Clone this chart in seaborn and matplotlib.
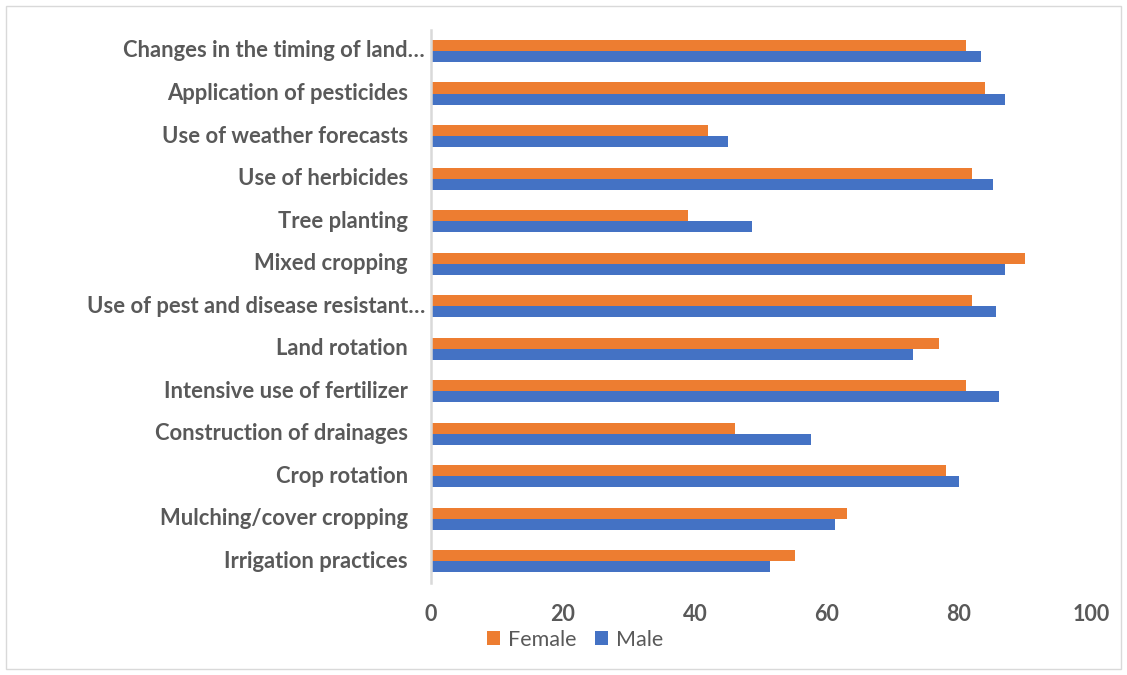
import matplotlib
matplotlib.use("Agg")
import matplotlib.pyplot as plt
import matplotlib.transforms as mtransforms
from matplotlib.patches import Patch, Rectangle
import seaborn as sns
import pandas as pd

categories = [
    "Changes in the timing of land…",
    "Application of pesticides",
    "Use of weather forecasts",
    "Use of herbicides",
    "Tree planting",
    "Mixed cropping",
    "Use of pest and disease resistant…",
    "Land rotation",
    "Intensive use of fertilizer",
    "Construction of drainages",
    "Crop rotation",
    "Mulching/cover cropping",
    "Irrigation practices",
]
female = [81.0, 84.0, 42.0, 82.0, 39.0, 90.0, 82.0, 77.0, 81.0, 46.0, 78.0, 63.0, 55.1]
male = [83.4, 87.0, 45.0, 85.1, 48.7, 87.0, 85.6, 73.0, 86.0, 57.5, 80.0, 61.2, 51.3]
series = ["Female", "Male"]
colors = ["#ED7D31", "#4472C4"]
xticks = [0, 20, 40, 60, 80, 100]

df = pd.DataFrame({
    "practice": categories * 2,
    "sex": ["Female"] * len(categories) + ["Male"] * len(categories),
    "value": female + male,
})

sns.set_theme(style="white")
plt.rcParams["font.family"] = ["Lato", "DejaVu Sans"]

fig = plt.figure(figsize=(11.27, 6.75), dpi=100)
ax = fig.add_axes([431 / 1127, 1 - 582.7 / 675, (1091 - 431) / 1127, (582.7 - 29.7) / 675])

sns.barplot(data=df, y="practice", x="value", hue="sex", order=categories,
            hue_order=series, palette=colors, orient="h", width=0.52, gap=0,
            saturation=1, linewidth=0, ax=ax, legend=False)

ax.set_xlim(0, 100)
ax.set_ylim(len(categories) - 0.5, -0.5)
ax.set_xticks(xticks)
ax.set_xticklabels([str(t) for t in xticks], fontsize=15.5, fontweight="bold", color="#595959")
ax.tick_params(axis="x", length=0, pad=15)
ax.tick_params(axis="y", length=0)
ax.set_yticklabels([])
ax.set_xlabel("")
ax.set_ylabel("")

for side in ["top", "right", "bottom"]:
    ax.spines[side].set_visible(False)
ax.spines["left"].set_color("#D9D9D9")
ax.spines["left"].set_linewidth(1.8)

# category labels, right-aligned left of the axis; truncated ones sit closer
for i, name in enumerate(categories):
    dx = -6 if name.endswith("…") else -23
    tr = ax.get_yaxis_transform() + mtransforms.ScaledTranslation(dx / 100, 0, fig.dpi_scale_trans)
    ax.text(0, i, name, transform=tr, ha="right", va="center",
            fontsize=15.8, fontweight="bold", color="#595959")

handles = [Patch(facecolor=c, edgecolor="none", label=s) for s, c in zip(series, colors)]
leg = fig.legend(handles=handles, loc="center", bbox_to_anchor=(575 / 1127, 1 - 640 / 675),
                 ncol=2, frameon=False, fontsize=15.5, handlelength=0.62, handleheight=0.62,
                 handletextpad=0.35, columnspacing=0.85)
for t in leg.get_texts():
    t.set_color("#595959")

# light frame around the whole chart
fig.patches.append(Rectangle((6 / 1127, 6 / 675), 1 - 12 / 1127, 1 - 12 / 675,
                             transform=fig.transFigure, fill=False,
                             edgecolor="#D9D9D9", linewidth=1.0))

fig.savefig("out.png", dpi=100, facecolor="white")
